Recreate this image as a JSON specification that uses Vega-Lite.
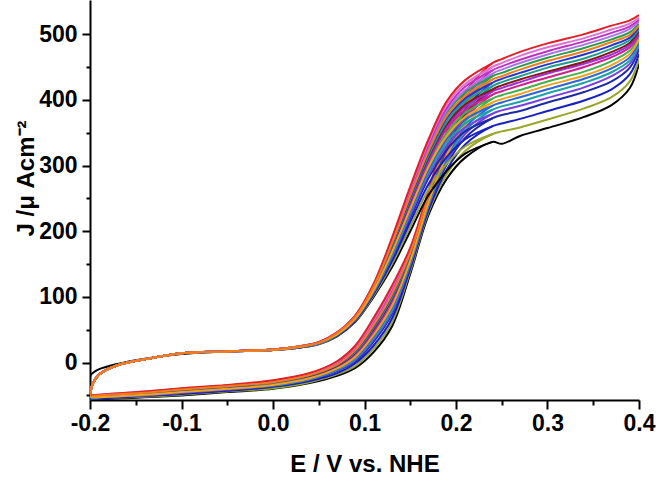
{
 "$schema": "https://vega.github.io/schema/vega-lite/v6.json",
 "width": 549, "height": 400,
 "autosize": {"type": "none"},
 "padding": {"left": 90, "top": 0, "right": 19, "bottom": 77},
 "background": "white",
 "config": {"view": {"stroke": null}, "font": "Liberation Sans"},
 "data": {"values": [
 {"s":1,"b":"f","E":-0.2,"c00":-50,"c01":-50,"c02":-51,"c03":-51,"c04":-51,"c05":-51,"c06":-52,"c07":-52,"c08":-52,"c09":-52,"c10":-52,"c11":-53,"c12":-53,"c13":-53,"c14":-54,"c15":-54,"c16":-54,"c17":-55,"c18":-55,"c19":-56},
 {"s":2,"b":"f","E":-0.18,"c00":-48,"c01":-48,"c02":-49,"c03":-49,"c04":-49,"c05":-49,"c06":-50,"c07":-50,"c08":-50,"c09":-51,"c10":-51,"c11":-51,"c12":-52,"c13":-52,"c14":-52,"c15":-52,"c16":-53,"c17":-54,"c18":-54,"c19":-55},
 {"s":3,"b":"f","E":-0.14,"c00":-44,"c01":-44,"c02":-45,"c03":-45,"c04":-46,"c05":-46,"c06":-46,"c07":-47,"c08":-47,"c09":-47,"c10":-48,"c11":-48,"c12":-49,"c13":-49,"c14":-49,"c15":-50,"c16":-50,"c17":-51,"c18":-52,"c19":-53},
 {"s":4,"b":"f","E":-0.1,"c00":-39,"c01":-40,"c02":-40,"c03":-40,"c04":-41,"c05":-41,"c06":-42,"c07":-42,"c08":-43,"c09":-43,"c10":-43,"c11":-44,"c12":-45,"c13":-45,"c14":-45,"c15":-46,"c16":-47,"c17":-48,"c18":-49,"c19":-50},
 {"s":5,"b":"f","E":-0.05,"c00":-34,"c01":-35,"c02":-35,"c03":-35,"c04":-36,"c05":-36,"c06":-37,"c07":-37,"c08":-38,"c09":-38,"c10":-38,"c11":-39,"c12":-40,"c13":-40,"c14":-40,"c15":-41,"c16":-42,"c17":-43,"c18":-44,"c19":-45},
 {"s":6,"b":"f","E":0.0,"c00":-27,"c01":-28,"c02":-28,"c03":-29,"c04":-29,"c05":-30,"c06":-30,"c07":-31,"c08":-31,"c09":-32,"c10":-32,"c11":-33,"c12":-34,"c13":-34,"c14":-35,"c15":-35,"c16":-36,"c17":-37,"c18":-39,"c19":-40},
 {"s":7,"b":"f","E":0.04,"c00":-16,"c01":-17,"c02":-17,"c03":-18,"c04":-19,"c05":-19,"c06":-20,"c07":-20,"c08":-21,"c09":-21,"c10":-22,"c11":-23,"c12":-24,"c13":-24,"c14":-25,"c15":-26,"c16":-27,"c17":-28,"c18":-30,"c19":-31},
 {"s":8,"b":"f","E":0.07,"c00":2,"c01":1,"c02":0,"c03":-1,"c04":-2,"c05":-3,"c06":-4,"c07":-4,"c08":-5,"c09":-6,"c10":-7,"c11":-8,"c12":-9,"c13":-10,"c14":-11,"c15":-12,"c16":-13,"c17":-16,"c18":-18,"c19":-20},
 {"s":9,"b":"f","E":0.09,"c00":26,"c01":24,"c02":23,"c03":22,"c04":20,"c05":19,"c06":18,"c07":16,"c08":15,"c09":14,"c10":12,"c11":11,"c12":9,"c13":8,"c14":6,"c15":4,"c16":2,"c17":-1,"c18":-5,"c19":-8},
 {"s":10,"b":"f","E":0.11,"c00":68,"c01":65,"c02":63,"c03":61,"c04":59,"c05":57,"c06":55,"c07":53,"c08":51,"c09":49,"c10":47,"c11":45,"c12":42,"c13":40,"c14":37,"c15":35,"c16":32,"c17":26,"c18":21,"c19":16},
 {"s":11,"b":"f","E":0.13,"c00":117,"c01":114,"c02":111,"c03":109,"c04":106,"c05":104,"c06":102,"c07":99,"c08":97,"c09":95,"c10":92,"c11":89,"c12":86,"c13":84,"c14":80,"c15":77,"c16":74,"c17":67,"c18":61,"c19":55},
 {"s":12,"b":"f","E":0.15,"c00":175,"c01":173,"c02":171,"c03":170,"c04":168,"c05":167,"c06":165,"c07":163,"c08":162,"c09":161,"c10":159,"c11":157,"c12":155,"c13":153,"c14":151,"c15":149,"c16":147,"c17":143,"c18":139,"c19":135},
 {"s":13,"b":"f","E":0.17,"c00":262,"c01":260,"c02":259,"c03":257,"c04":256,"c05":254,"c06":253,"c07":251,"c08":250,"c09":249,"c10":247,"c11":245,"c12":244,"c13":242,"c14":240,"c15":238,"c16":236,"c17":232,"c18":229,"c19":225},
 {"s":14,"b":"f","E":0.19,"c00":352,"c01":348,"c02":346,"c03":343,"c04":340,"c05":337,"c06":334,"c07":331,"c08":328,"c09":326,"c10":323,"c11":320,"c12":316,"c13":313,"c14":310,"c15":306,"c16":302,"c17":294,"c18":287,"c19":280},
 {"s":15,"b":"f","E":0.21,"c00":412,"c01":407,"c02":403,"c03":399,"c04":395,"c05":391,"c06":387,"c07":383,"c08":379,"c09":376,"c10":372,"c11":367,"c12":362,"c13":358,"c14":353,"c15":348,"c16":342,"c17":332,"c18":322,"c19":312},
 {"s":16,"b":"f","E":0.24,"c00":456,"c01":450,"c02":445,"c03":440,"c04":436,"c05":431,"c06":426,"c07":421,"c08":416,"c09":413,"c10":408,"c11":402,"c12":396,"c13":391,"c14":385,"c15":379,"c16":372,"c17":360,"c18":348,"c19":336},
 {"s":17,"b":"f","E":0.25,"c00":462,"c01":456,"c02":451,"c03":446,"c04":441,"c05":436,"c06":432,"c07":427,"c08":422,"c09":418,"c10":413,"c11":407,"c12":401,"c13":396,"c14":390,"c15":384,"c16":377,"c17":364,"c18":352,"c19":333},
 {"s":18,"b":"f","E":0.27,"c00":473,"c01":467,"c02":461,"c03":456,"c04":451,"c05":446,"c06":441,"c07":436,"c08":431,"c09":427,"c10":422,"c11":415,"c12":409,"c13":404,"c14":397,"c15":391,"c16":383,"c17":371,"c18":358,"c19":345},
 {"s":19,"b":"f","E":0.3,"c00":486,"c01":480,"c02":474,"c03":469,"c04":464,"c05":459,"c06":454,"c07":449,"c08":443,"c09":440,"c10":434,"c11":428,"c12":422,"c13":416,"c14":410,"c15":403,"c16":396,"c17":383,"c18":370,"c19":357},
 {"s":20,"b":"f","E":0.34,"c00":500,"c01":494,"c02":489,"c03":484,"c04":479,"c05":474,"c06":469,"c07":463,"c08":458,"c09":455,"c10":450,"c11":443,"c12":437,"c13":432,"c14":426,"c15":419,"c16":412,"c17":399,"c18":387,"c19":374},
 {"s":21,"b":"f","E":0.37,"c00":513,"c01":507,"c02":502,"c03":497,"c04":492,"c05":488,"c06":483,"c07":478,"c08":473,"c09":469,"c10":465,"c11":459,"c12":453,"c13":448,"c14":442,"c15":436,"c16":428,"c17":416,"c18":404,"c19":392},
 {"s":22,"b":"f","E":0.39,"c00":521,"c01":516,"c02":512,"c03":508,"c04":503,"c05":499,"c06":495,"c07":491,"c08":487,"c09":484,"c10":480,"c11":475,"c12":470,"c13":465,"c14":460,"c15":455,"c16":449,"c17":439,"c18":428,"c19":418},
 {"s":23,"b":"f","E":0.4,"c00":529,"c01":525,"c02":522,"c03":519,"c04":516,"c05":513,"c06":511,"c07":508,"c08":505,"c09":502,"c10":499,"c11":496,"c12":492,"c13":489,"c14":485,"c15":482,"c16":477,"c17":470,"c18":462,"c19":455},
 {"s":24,"b":"r","E":0.24,"c00":456,"c01":450,"c02":445,"c03":440,"c04":436,"c05":431,"c06":426,"c07":421,"c08":416,"c09":413,"c10":408,"c11":402,"c12":396,"c13":391,"c14":385,"c15":379,"c16":372,"c17":360,"c18":348,"c19":336},
 {"s":25,"b":"r","E":0.21,"c00":430,"c01":424,"c02":420,"c03":415,"c04":411,"c05":406,"c06":402,"c07":398,"c08":393,"c09":390,"c10":385,"c11":380,"c12":374,"c13":370,"c14":364,"c15":358,"c16":352,"c17":340,"c18":329,"c19":318},
 {"s":26,"b":"r","E":0.19,"c00":398,"c01":393,"c02":388,"c03":384,"c04":380,"c05":376,"c06":372,"c07":367,"c08":363,"c09":360,"c10":356,"c11":350,"c12":345,"c13":341,"c14":335,"c15":330,"c16":324,"c17":313,"c18":303,"c19":292},
 {"s":27,"b":"r","E":0.17,"c00":340,"c01":336,"c02":332,"c03":329,"c04":326,"c05":322,"c06":319,"c07":315,"c08":312,"c09":309,"c10":306,"c11":302,"c12":298,"c13":294,"c14":290,"c15":286,"c16":281,"c17":272,"c18":264,"c19":255},
 {"s":28,"b":"r","E":0.15,"c00":268,"c01":265,"c02":262,"c03":259,"c04":256,"c05":254,"c06":251,"c07":248,"c08":246,"c09":244,"c10":241,"c11":237,"c12":234,"c13":231,"c14":228,"c15":224,"c16":220,"c17":214,"c18":207,"c19":200},
 {"s":29,"b":"r","E":0.13,"c00":190,"c01":188,"c02":186,"c03":184,"c04":182,"c05":181,"c06":179,"c07":177,"c08":175,"c09":174,"c10":172,"c11":170,"c12":168,"c13":166,"c14":163,"c15":161,"c16":159,"c17":154,"c18":150,"c19":145},
 {"s":30,"b":"r","E":0.11,"c00":120,"c01":119,"c02":118,"c03":117,"c04":117,"c05":116,"c06":115,"c07":114,"c08":113,"c09":113,"c10":112,"c11":111,"c12":110,"c13":109,"c14":108,"c15":107,"c16":106,"c17":104,"c18":102,"c19":100},
 {"s":31,"b":"r","E":0.09,"c00":72,"c01":72,"c02":71,"c03":71,"c04":70,"c05":70,"c06":70,"c07":69,"c08":69,"c09":68,"c10":68,"c11":68,"c12":67,"c13":67,"c14":66,"c15":66,"c16":65,"c17":64,"c18":63,"c19":62},
 {"s":32,"b":"r","E":0.07,"c00":46,"c01":46,"c02":45,"c03":45,"c04":45,"c05":45,"c06":45,"c07":44,"c08":44,"c09":44,"c10":44,"c11":43,"c12":43,"c13":43,"c14":42,"c15":42,"c16":42,"c17":41,"c18":41,"c19":40},
 {"s":33,"b":"r","E":0.05,"c00":31,"c01":31,"c02":31,"c03":31,"c04":30,"c05":30,"c06":30,"c07":30,"c08":30,"c09":30,"c10":30,"c11":30,"c12":30,"c13":29,"c14":29,"c15":29,"c16":29,"c17":29,"c18":28,"c19":28},
 {"s":34,"b":"r","E":0.03,"c00":25,"c01":25,"c02":25,"c03":25,"c04":25,"c05":25,"c06":24,"c07":24,"c08":24,"c09":24,"c10":24,"c11":24,"c12":24,"c13":24,"c14":24,"c15":24,"c16":24,"c17":23,"c18":23,"c19":23},
 {"s":35,"b":"r","E":0.0,"c00":20,"c01":20,"c02":20,"c03":20,"c04":20,"c05":20,"c06":20,"c07":20,"c08":20,"c09":20,"c10":19,"c11":19,"c12":19,"c13":19,"c14":19,"c15":19,"c16":19,"c17":19,"c18":19,"c19":19},
 {"s":36,"b":"r","E":-0.05,"c00":17,"c01":17,"c02":17,"c03":17,"c04":17,"c05":17,"c06":17,"c07":17,"c08":17,"c09":17,"c10":17,"c11":17,"c12":17,"c13":17,"c14":17,"c15":17,"c16":17,"c17":17,"c18":17,"c19":17},
 {"s":37,"b":"r","E":-0.1,"c00":14,"c01":14,"c02":14,"c03":14,"c04":14,"c05":14,"c06":14,"c07":14,"c08":14,"c09":14,"c10":14,"c11":14,"c12":14,"c13":14,"c14":14,"c15":14,"c16":14,"c17":14,"c18":14,"c19":13},
 {"s":38,"b":"r","E":-0.14,"c00":5,"c01":5,"c02":5,"c03":5,"c04":5,"c05":5,"c06":5,"c07":5,"c08":5,"c09":5,"c10":5,"c11":5,"c12":5,"c13":5,"c14":5,"c15":5,"c16":5,"c17":5,"c18":5,"c19":6},
 {"s":39,"b":"r","E":-0.17,"c00":-4,"c01":-4,"c02":-4,"c03":-4,"c04":-4,"c05":-4,"c06":-4,"c07":-4,"c08":-4,"c09":-4,"c10":-4,"c11":-4,"c12":-4,"c13":-4,"c14":-4,"c15":-4,"c16":-4,"c17":-4,"c18":-4,"c19":-2},
 {"s":40,"b":"r","E":-0.19,"c00":-18,"c01":-18,"c02":-18,"c03":-18,"c04":-18,"c05":-18,"c06":-18,"c07":-18,"c08":-18,"c09":-18,"c10":-18,"c11":-18,"c12":-18,"c13":-18,"c14":-18,"c15":-18,"c16":-18,"c17":-18,"c18":-18,"c19":-10},
 {"s":41,"b":"r","E":-0.197,"c00":-32,"c01":-32,"c02":-32,"c03":-32,"c04":-32,"c05":-32,"c06":-32,"c07":-32,"c08":-32,"c09":-32,"c10":-32,"c11":-32,"c12":-32,"c13":-32,"c14":-32,"c15":-32,"c16":-32,"c17":-32,"c18":-32,"c19":-16},
 {"s":42,"b":"r","E":-0.1995,"c00":-45,"c01":-45,"c02":-45,"c03":-45,"c04":-45,"c05":-45,"c06":-45,"c07":-45,"c08":-45,"c09":-45,"c10":-45,"c11":-45,"c12":-45,"c13":-45,"c14":-45,"c15":-45,"c16":-45,"c17":-45,"c18":-45,"c19":-20},
 {"s":43,"b":"r","E":-0.2,"c00":-50,"c01":-50,"c02":-51,"c03":-51,"c04":-51,"c05":-51,"c06":-52,"c07":-52,"c08":-52,"c09":-52,"c10":-52,"c11":-53,"c12":-53,"c13":-53,"c14":-54,"c15":-54,"c16":-54,"c17":-55,"c18":-55,"c19":-56}
 ]},
 "transform": [{"fold": ["c19","c18","c17","c16","c15","c14","c13","c11","c10","c09","c08","c07","c06","c04","c03","c02","c01","c00","c12","c05"], "as": ["key","J"]}],
 "mark": {"type": "line", "interpolate": "catmull-rom", "strokeWidth": 2, "clip": true},
 "encoding": {
  "x": {"field": "E", "type": "quantitative",
   "scale": {"domain": [-0.2, 0.4], "nice": false, "zero": false},
   "axis": {"title": "E / V vs. NHE",
    "values": [-0.2,-0.15,-0.1,-0.05,0,0.05,0.1,0.15,0.2,0.25,0.3,0.35,0.4],
    "format": ".1f",
    "labelExpr": "abs(datum.value*10 - round(datum.value*10)) < 0.01 ? replace(datum.label, '−', '-') : ''",
    "tickSize": {"condition": {"test": "abs(datum.value*10 - round(datum.value*10)) < 0.01", "value": 9}, "value": 5},
    "tickWidth": 2, "tickColor": "black", "domainColor": "black", "domainWidth": 2,
    "grid": false, "labelOverlap": false, "labelFlush": false,
    "labelFont": "Liberation Sans", "labelFontSize": 23, "labelFontWeight": "bold", "labelColor": "black", "labelPadding": 3,
    "titleFont": "Liberation Sans", "titleFontSize": 24, "titleFontWeight": "bold", "titleColor": "black",
    "titleY": 71, "titleBaseline": "alphabetic"}},
  "y": {"field": "J", "type": "quantitative",
   "scale": {"domain": [-57, 552], "nice": false, "zero": false},
   "axis": {"title": "J /μ Acm⁻²",
    "values": [-50,0,50,100,150,200,250,300,350,400,450,500],
    "labelExpr": "datum.value % 100 === 0 ? datum.label : ''",
    "tickSize": {"condition": {"test": "datum.value % 100 === 0", "value": 8}, "value": 4},
    "tickWidth": 2, "tickColor": "black", "domainColor": "black", "domainWidth": 2,
    "grid": false, "labelOverlap": false, "labelFlush": false,
    "labelFont": "Liberation Sans", "labelFontSize": 23, "labelFontWeight": "bold", "labelColor": "black", "labelPadding": 5,
    "titleFont": "Liberation Sans", "titleFontSize": 24, "titleFontWeight": "bold", "titleColor": "black",
    "titleX": -57, "titleY": 178, "titleAngle": 270, "titleBaseline": "alphabetic", "titleAlign": "center"}},
  "color": {"field": "key", "type": "nominal", "legend": null,
   "scale": {"domain": ["c00","c01","c02","c03","c04","c05","c06","c07","c08","c09","c10","c11","c12","c13","c14","c15","c16","c17","c18","c19"],
    "range": ["#e41e26","#e06fd6","#c22fc4","#a774ec","#2c9c4c","#f17c1c","#2436d6","#1e9e8c","#8a1515","#9b2fe2","#d21f8e","#43b04a","#f3a21c","#2a64e0","#1aa3a8","#7a3ee6","#1c2aa8","#1620c4","#9aa62a","#000000"]}},
  "detail": {"field": "b"},
  "order": {"field": "s", "type": "quantitative"}
 }
}
